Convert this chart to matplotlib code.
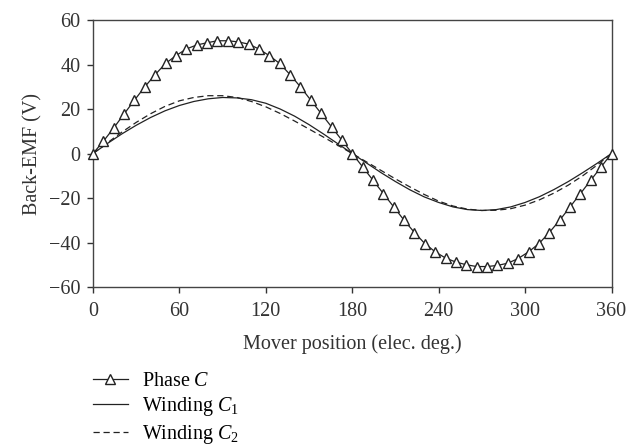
import matplotlib.pyplot as plt

plt.rcParams["font.family"] = ["Liberation Serif", "DejaVu Serif"]
plt.rcParams["mathtext.fontset"] = "custom"
plt.rcParams["mathtext.rm"] = "Liberation Serif"
plt.rcParams["mathtext.it"] = "Liberation Serif:italic"

# Phase C (markers every 7.2 elec. deg.)
phase_x = [i * 7.2 for i in range(51)]
phase_c = [
    0, 5.5, 11.5, 17.8, 24.0, 30.0, 35.5, 40.5, 44.0, 47.0,
    48.8, 49.8, 50.7, 50.7, 50.2, 49.2, 47.0, 44.0, 40.5, 35.5,
    30.0, 24.0, 18.0, 12.0, 6.0, 0,
    -6.0, -12.0, -18.0, -24.0, -30.0, -35.5, -40.5, -44.2, -47.0,
    -48.8, -50.0, -50.8, -50.8, -50.3, -49.3, -47.2, -44.2, -40.5, -35.5,
    -30.0, -24.0, -18.0, -12.0, -6.0, 0,
]

# windings, every 10 elec. deg.
wind_x = list(range(0, 361, 10))
winding_c1 = [
    0, 4.5, 8.8, 12.7, 16.2, 19.2, 21.6, 23.4, 24.6, 25.2,
    25.0, 24.2, 22.6, 20.0, 16.8, 13.0, 8.8, 4.4, 0,
    -4.3, -8.6, -12.6, -16.3, -19.5, -22.0, -24.0, -25.2, -25.6,
    -25.2, -24.0, -22.0, -19.4, -16.2, -12.6, -8.6, -4.4, 0,
]
winding_c2 = [
    0, 4.8, 9.6, 14.0, 17.9, 21.2, 23.7, 25.2, 26.0, 26.0,
    25.2, 23.4, 21.0, 18.0, 14.6, 11.0, 7.4, 3.7, 0,
    -3.8, -7.6, -11.4, -15.0, -18.4, -21.4, -23.6, -25.0, -25.6,
    -25.5, -24.8, -23.2, -20.8, -17.8, -14.2, -10.0, -5.2, 0,
]

x_ticks = [0, 60, 120, 180, 240, 300, 360]
y_ticks = [-60, -40, -20, 0, 20, 40, 60]

fig = plt.figure(figsize=(6.39, 4.46), dpi=100)
ax = fig.add_axes([0.1455, 0.3565, 0.8115, 0.5985])

col = "#222222"
fs = 14.5
ax.plot(phase_x, phase_c, color=col, linewidth=0.9, marker="^",
        markersize=6.5, markerfacecolor="white", markeredgecolor=col,
        markeredgewidth=1.0, label="Phase $C$", zorder=3, clip_on=False)
ax.plot(wind_x, winding_c1, color=col, linewidth=0.9, linestyle="-",
        label="Winding $C_1$")
ax.plot(wind_x, winding_c2, color=col, linewidth=0.9, linestyle=(0, (5, 3)),
        label="Winding $C_2$")

ax.set_xlim(0, 360)
ax.set_ylim(-60, 60)
ax.set_xticks(x_ticks)
ax.set_yticks(y_ticks)
ax.tick_params(direction="out", length=4, width=1, labelsize=fs, colors="#333333")
ax.tick_params(axis="x", pad=7)
ax.tick_params(axis="y", pad=5)
for s in ax.spines.values():
    s.set_color("#444444")
    s.set_linewidth(1.0)

ax.set_xlabel("Mover position (elec. deg.)", fontsize=fs, color="#333333", labelpad=9)
ax.set_ylabel("Back-EMF (V)", fontsize=fs, color="#333333", labelpad=5)

fig.legend(loc="upper left", bbox_to_anchor=(0.145, 0.166), frameon=False,
           fontsize=fs, numpoints=1, handlelength=1.75, handletextpad=0.7,
           labelspacing=0.22, borderaxespad=0, borderpad=0)

fig.savefig("out.png", dpi=100)
